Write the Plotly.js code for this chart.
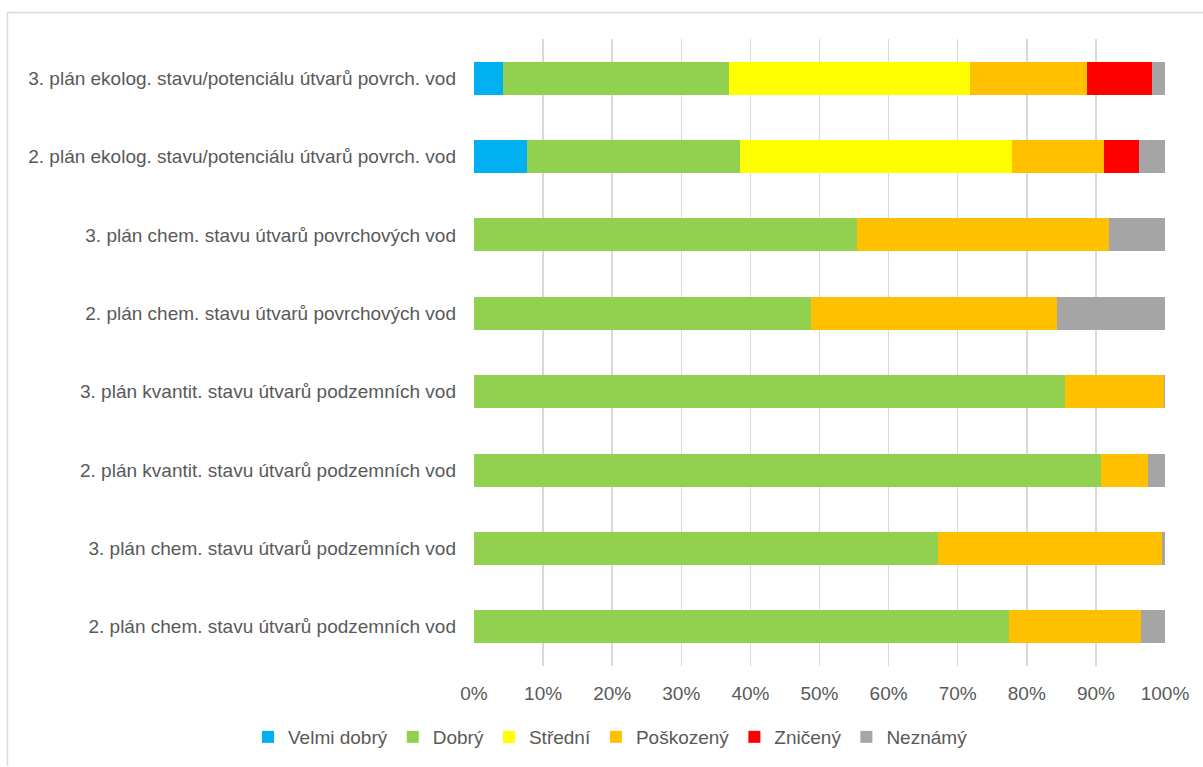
<!DOCTYPE html>
<html>
<head>
<meta charset="utf-8">
<script src="https://cdn.plot.ly/plotly-3.0.1.min.js"></script>
<style>
html,body{margin:0;padding:0;background:#fff;}
#chart{width:1203px;height:767px;}
</style>
</head>
<body>
<div id="chart"></div>
<script>
const categories = [
  "3. plán ekolog. stavu/potenciálu útvarů povrch. vod",
  "2. plán ekolog. stavu/potenciálu útvarů povrch. vod",
  "3. plán chem. stavu útvarů povrchových vod",
  "2. plán chem. stavu útvarů povrchových vod",
  "3. plán kvantit. stavu útvarů podzemních vod",
  "2. plán kvantit. stavu útvarů podzemních vod",
  "3. plán chem. stavu útvarů podzemních vod",
  "2. plán chem. stavu útvarů podzemních vod"
];
const seriesNames = ["Velmi dobrý", "Dobrý", "Střední", "Poškozený", "Zničený", "Neznámý"];
const velmiDobry = [4.2, 7.7, 0, 0, 0, 0, 0, 0];
const dobry      = [32.7, 30.8, 55.4, 48.8, 85.5, 90.8, 67.2, 77.4];
const stredni    = [34.9, 39.4, 0, 0, 0, 0, 0, 0];
const poskozeny  = [16.9, 13.2, 36.5, 35.6, 14.4, 6.8, 32.3, 19.1];
const zniceny    = [9.4, 5.1, 0, 0, 0, 0, 0, 0];
const neznamy    = [1.9, 3.8, 8.1, 15.6, 0.1, 2.4, 0.5, 3.5];
const colors = ["#00B0F0", "#92D050", "#FFFF00", "#FFC000", "#FF0000", "#A5A5A5"];

const seriesValues = [velmiDobry, dobry, stredni, poskozeny, zniceny, neznamy];
const traces = seriesValues.map((vals, i) => ({
  type: "bar",
  orientation: "h",
  name: seriesNames[i],
  y: categories,
  x: vals.map(v => v / 100),
  marker: {color: colors[i], line: {width: 0}},
  hoverinfo: "name+x"
}));

const W = 1203, H = 767;
const L = 474, R = 1165, T = 39, B = 667;
const pw = R - L, ph = B - T;
const px = v => (v - L) / pw;
const py = v => (B - v) / ph;

const layout = {
  width: W, height: H,
  barmode: "stack",
  bargap: 0.58,
  margin: {l: L, r: W - R, t: T, b: H - B, pad: 0},
  paper_bgcolor: "#fff",
  plot_bgcolor: "#fff",
  font: {family: "Liberation Sans, Arial, sans-serif", size: 19, color: "#595959"},
  xaxis: {
    range: [0, 1],
    tickvals: [0, 0.1, 0.2, 0.3, 0.4, 0.5, 0.6, 0.7, 0.8, 0.9, 1],
    tickformat: ".0%",
    showgrid: true,
    gridcolor: "#D9D9D9",
    gridwidth: 1.5,
    zeroline: false,
    showline: false,
    ticks: "",
    ticklabelstandoff: 14,
    tickfont: {size: 19, color: "#595959"},
    fixedrange: true
  },
  yaxis: {
    type: "category",
    autorange: "reversed",
    showgrid: false,
    zeroline: false,
    showline: false,
    ticks: "",
    ticklabelstandoff: 17,
    tickfont: {size: 19, color: "#595959"},
    fixedrange: true
  },
  showlegend: true,
  legend: {
    orientation: "h",
    x: px(248), xanchor: "left",
    y: py(737), yanchor: "middle",
    font: {size: 19, color: "#595959"},
    traceorder: "normal",
    itemwidth: 30,
    tracegroupgap: 0
  },
  shapes: [
    {type: "line", xref: "paper", yref: "paper",
     x0: px(7.5), x1: px(1203), y0: py(12.5), y1: py(12.5),
     line: {color: "#D9D9D9", width: 1.5}, layer: "below"},
    {type: "line", xref: "paper", yref: "paper",
     x0: px(7.5), x1: px(7.5), y0: py(12.5), y1: py(767),
     line: {color: "#D9D9D9", width: 1.5}, layer: "below"}
  ]
};

Plotly.newPlot("chart", traces, layout, {displayModeBar: false, staticPlot: true});
</script>
</body>
</html>
